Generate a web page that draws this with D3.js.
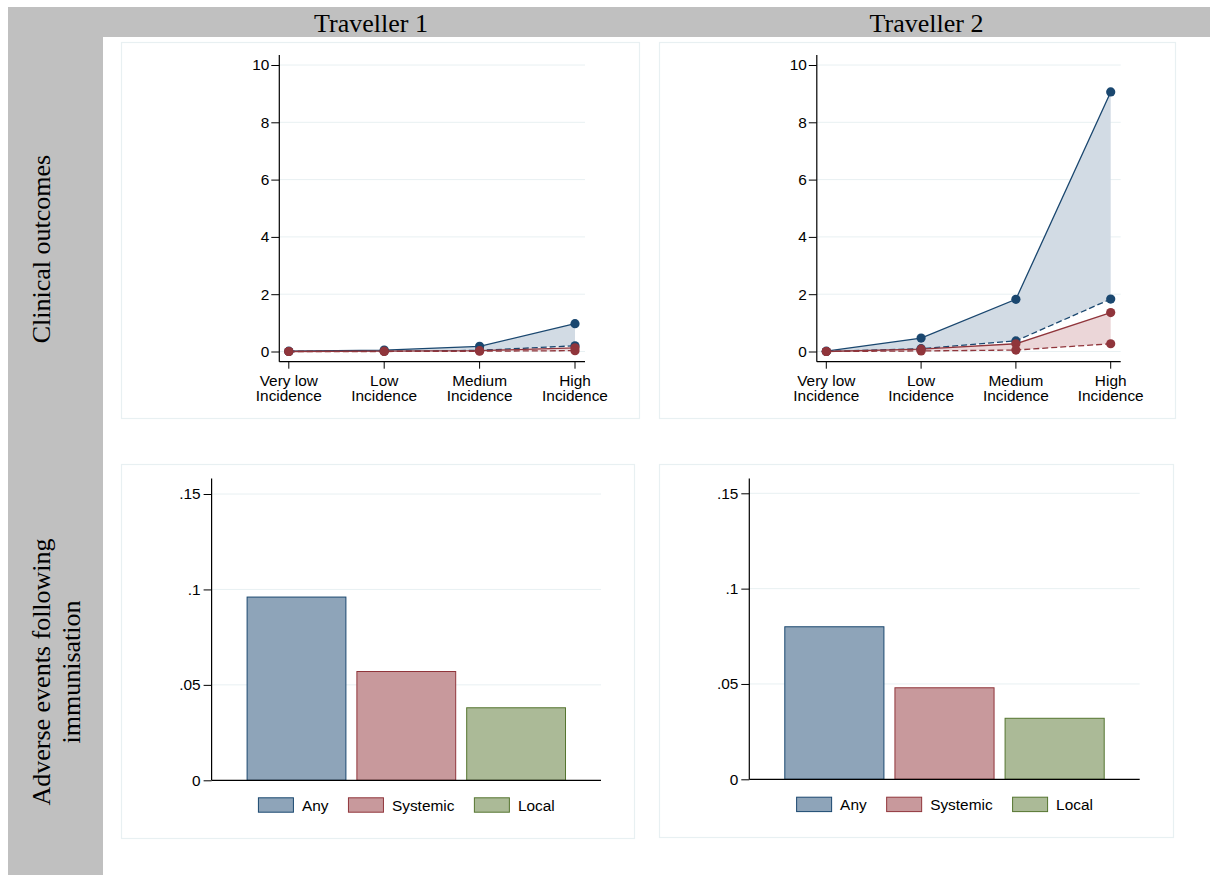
<!DOCTYPE html>
<html><head><meta charset="utf-8">
<script src="https://cdn.jsdelivr.net/npm/d3@7"></script>
<style>body{margin:0;background:#fff}svg{display:block}</style>
</head><body>
<svg id="c" width="1210" height="875"></svg>
<script>
// ---------- data ----------
const travellers = ["Traveller 1", "Traveller 2"];
const rowLabels = [["Clinical outcomes"], ["Adverse events following", "immunisation"]];
const categories = ["Very low\nIncidence", "Low\nIncidence", "Medium\nIncidence", "High\nIncidence"];
const lineTicks = [0, 2, 4, 6, 8, 10];
const lineTickLabels = ["0", "2", "4", "6", "8", "10"];

// Traveller 1 clinical outcomes
const t1BlueSolid  = [0.01, 0.05, 0.18, 0.97];
const t1BlueDashed = [0.00, 0.01, 0.04, 0.20];
const t1RedSolid   = [0.00, 0.01, 0.03, 0.13];
const t1RedDashed  = [0.00, 0.00, 0.01, 0.03];
// Traveller 2 clinical outcomes
const t2BlueSolid  = [0.01, 0.47, 1.82, 9.06];
const t2BlueDashed = [0.00, 0.10, 0.37, 1.83];
const t2RedSolid   = [0.00, 0.08, 0.27, 1.36];
const t2RedDashed  = [0.00, 0.02, 0.05, 0.27];

const barCategories = ["Any", "Systemic", "Local"];
const barTicks = [0, 0.05, 0.1, 0.15];
const barTickLabels = ["0", ".05", ".1", ".15"];
const t1Bars = [0.096, 0.057, 0.038];
const t2Bars = [0.080, 0.048, 0.032];

// ---------- styles ----------
const navy = "#1a476f", maroon = "#90353b", green = "#55752f";
const navyFill = "#d2dbe4", maroonFill = "#ebd6d8";
const barFill = ["#8ea4b9", "#c8999c", "#abba97"];
const barStroke = [navy, maroon, green];
const gridCol = "#e8f0f2";
const sans = "'Liberation Sans', Arial, sans-serif";
const serif = "'Liberation Serif', 'Times New Roman', serif";
const tickFont = 15.4;

const svg = d3.select("#c");

// backgrounds
svg.append("rect").attr("x", 0).attr("y", 0).attr("width", 1210).attr("height", 875).attr("fill", "#fff");
svg.append("rect").attr("x", 8).attr("y", 7).attr("width", 1202).attr("height", 30).attr("fill", "#c0c0c0");
svg.append("rect").attr("x", 8).attr("y", 7).attr("width", 95).attr("height", 868).attr("fill", "#c0c0c0");

// header titles
const headerX = [371, 926.5];
travellers.forEach((t, i) => {
  svg.append("text").attr("x", headerX[i]).attr("y", 32).attr("text-anchor", "middle")
    .attr("font-family", serif).attr("font-size", 26).attr("fill", "#000").text(t);
});

// row labels (rotated)
const rowCenters = [249, 672];
rowLabels.forEach((lines, r) => {
  const g = svg.append("g").attr("transform", `translate(0,${rowCenters[r]}) rotate(-90)`);
  lines.forEach((ln, k) => {
    g.append("text").attr("x", 0).attr("y", 50 + k * 30).attr("text-anchor", "middle")
      .attr("font-family", serif).attr("font-size", 26).attr("fill", "#000").text(ln);
  });
});

function box(b) {
  svg.append("rect").attr("x", b[0] + 0.5).attr("y", b[1] + 0.5)
    .attr("width", b[2] - b[0]).attr("height", b[3] - b[1])
    .attr("fill", "none").attr("stroke", gridCol).attr("stroke-width", 1.2);
}

// ---------- line panels ----------
function linePanel(L, series) {
  box(L.box);
  const x = d3.scalePoint().domain(categories).range([L.axisX + 9.5, L.axisEnd - 10]);
  const y = d3.scaleLinear().domain([0, 10]).range([L.y0, L.y10]);
  const g = svg.append("g");
  // gridlines
  g.selectAll("line.grid").data(lineTicks).join("line")
    .attr("x1", L.axisX).attr("x2", L.axisEnd)
    .attr("y1", d => y(d)).attr("y2", d => y(d))
    .attr("stroke", gridCol).attr("stroke-width", 1);
  const pts = arr => arr.map((v, i) => [categories[i], v]);
  // fills
  const area = (up, lo) => d3.area().x((d, i) => x(categories[i])).y0((d, i) => y(lo[i])).y1(d => y(d))(up);
  g.append("path").attr("d", area(series.blueSolid, series.blueDashed)).attr("fill", navyFill);
  g.append("path").attr("d", area(series.redSolid, series.redDashed)).attr("fill", maroonFill);
  const line = d3.line().x((d, i) => x(categories[i])).y(d => y(d));
  const defs = [
    [series.blueSolid, navy, null], [series.blueDashed, navy, "6,3"],
    [series.redSolid, maroon, null], [series.redDashed, maroon, "6,3"]
  ];
  defs.forEach(([arr, col, dash]) => {
    g.append("path").attr("d", line(arr)).attr("fill", "none").attr("stroke", col)
      .attr("stroke-width", 1.3).attr("stroke-dasharray", dash);
  });
  defs.forEach(([arr, col]) => {
    g.selectAll(null).data(arr).join("circle")
      .attr("cx", (d, i) => x(categories[i])).attr("cy", d => y(d)).attr("r", 4.6).attr("fill", col);
  });
  // y axis
  const ya = g.append("g").attr("transform", `translate(${L.axisX},0)`)
    .call(d3.axisLeft(y).tickValues(lineTicks).tickSize(8).tickPadding(2)
      .tickFormat((d, i) => lineTickLabels[i]));
  ya.select(".domain").remove();
  ya.selectAll("text").attr("font-family", sans).attr("font-size", tickFont).attr("fill", "#000");
  ya.selectAll("line").attr("stroke", "#000");
  g.append("line").attr("x1", L.axisX).attr("x2", L.axisX).attr("y1", L.yTop).attr("y2", L.xAxisY)
    .attr("stroke", "#000").attr("stroke-width", 1.2);
  // x axis
  g.append("line").attr("x1", L.axisX).attr("x2", L.axisEnd).attr("y1", L.xAxisY).attr("y2", L.xAxisY)
    .attr("stroke", "#000").attr("stroke-width", 1.2);
  categories.forEach(c => {
    g.append("line").attr("x1", x(c)).attr("x2", x(c)).attr("y1", L.xAxisY).attr("y2", L.xAxisY + 7)
      .attr("stroke", "#000");
    const t = g.append("text").attr("text-anchor", "middle").attr("font-family", sans)
      .attr("font-size", tickFont).attr("fill", "#000");
    c.split("\n").forEach((ln, k) => {
      t.append("tspan").attr("x", x(c)).attr("y", L.xAxisY + 24.5 + k * 15).text(ln);
    });
  });
}

linePanel({axisX: 279.3, axisEnd: 585, yTop: 55, y0: 351.5, y10: 65, xAxisY: 361.7, box: [121, 42, 639, 418]},
  {blueSolid: t1BlueSolid, blueDashed: t1BlueDashed, redSolid: t1RedSolid, redDashed: t1RedDashed});
linePanel({axisX: 816.8, axisEnd: 1120.7, yTop: 55, y0: 351.5, y10: 65, xAxisY: 361.7, box: [659, 42, 1175, 418]},
  {blueSolid: t2BlueSolid, blueDashed: t2BlueDashed, redSolid: t2RedSolid, redDashed: t2RedDashed});

// ---------- bar panels ----------
function barPanel(L, values) {
  box(L.box);
  const x = d3.scaleBand().domain(barCategories).range([L.axisX + 35, L.axisEnd - 35]).paddingInner(0.091).paddingOuter(0);
  const y = d3.scaleLinear().domain([0, 0.15]).range([L.y0, L.y15]);
  const g = svg.append("g");
  g.selectAll(null).data(barTicks.slice(1)).join("line")
    .attr("x1", L.axisX).attr("x2", L.axisEnd)
    .attr("y1", d => y(d)).attr("y2", d => y(d))
    .attr("stroke", gridCol).attr("stroke-width", 1);
  g.selectAll("rect.bar").data(values).join("rect")
    .attr("x", (d, i) => x(barCategories[i]) + 0.5).attr("y", d => y(d))
    .attr("width", x.bandwidth() - 1).attr("height", d => y(0) - y(d))
    .attr("fill", (d, i) => barFill[i]).attr("stroke", (d, i) => barStroke[i]).attr("stroke-width", 1);
  const ya = g.append("g").attr("transform", `translate(${L.axisX},0)`)
    .call(d3.axisLeft(y).tickValues(barTicks).tickSize(8).tickPadding(3)
      .tickFormat((d, i) => barTickLabels[i]));
  ya.select(".domain").remove();
  ya.selectAll("text").attr("font-family", sans).attr("font-size", tickFont).attr("fill", "#000");
  ya.selectAll("line").attr("stroke", "#000");
  g.append("line").attr("x1", L.axisX).attr("x2", L.axisX).attr("y1", L.yTop).attr("y2", L.y0)
    .attr("stroke", "#000").attr("stroke-width", 1.2);
  g.append("line").attr("x1", L.axisX).attr("x2", L.axisEnd).attr("y1", L.y0).attr("y2", L.y0)
    .attr("stroke", "#000").attr("stroke-width", 1.2);
  // legend
  const lg = g.append("g");
  const sw = 36, sh = 15.4, gap1 = 8, gap2 = 19.5;
  let cx = 0;
  const items = [];
  barCategories.forEach((c, i) => {
    const it = lg.append("g");
    it.append("rect").attr("x", cx + 0.5).attr("y", L.legY + 0.5).attr("width", sw - 1).attr("height", sh - 1)
      .attr("fill", barFill[i]).attr("stroke", barStroke[i]).attr("stroke-width", 1);
    const t = it.append("text").attr("x", cx + sw + gap1).attr("y", L.legY + sh / 2 + 5.5)
      .attr("font-family", sans).attr("font-size", tickFont).attr("fill", "#000").text(c);
    cx += sw + gap1 + t.node().getComputedTextLength() + gap2;
  });
  const total = cx - gap2;
  const center = (L.axisX + L.axisEnd) / 2;
  lg.attr("transform", `translate(${center - total / 2},0)`);
}

barPanel({axisX: 211.6, axisEnd: 601, yTop: 478.5, y0: 780.3, y15: 494, legY: 797.3, box: [121, 464, 634, 838]}, t1Bars);
barPanel({axisX: 749.3, axisEnd: 1139.7, yTop: 478.5, y0: 779.3, y15: 493.3, legY: 796.7, box: [659, 464, 1173, 837]}, t2Bars);
</script>
</body></html>
